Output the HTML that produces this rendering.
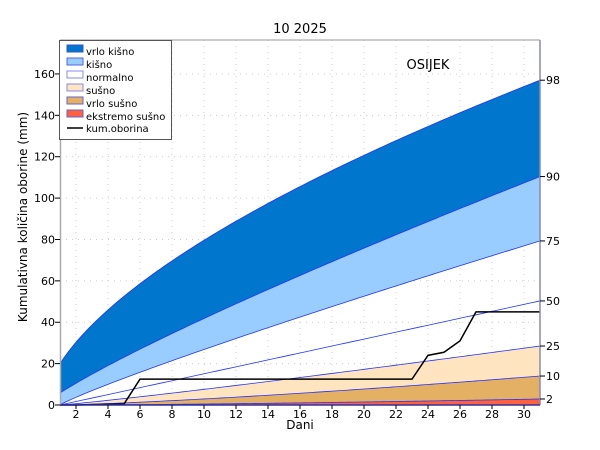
<!DOCTYPE html>
<html><head><meta charset="utf-8"><style>
body{margin:0;background:#fff;}
svg{display:block;font-family:"DejaVu Sans","Liberation Sans",sans-serif;}
</style></head><body>
<svg id="s" width="600" height="450" xmlns="http://www.w3.org/2000/svg">
<rect width="600" height="450" fill="#fff"/>
<g id="grid"></g>
<g id="fills"></g>
<g id="lines"></g>
<line x1="60" y1="40" x2="540" y2="40" stroke="#999" stroke-width="1"/>
<line x1="60.5" y1="40" x2="60.5" y2="405" stroke="#aaa" stroke-width="1.5"/>
<line x1="540" y1="40" x2="540" y2="405" stroke="#8888bb" stroke-width="1.5"/>
<line x1="60" y1="405" x2="540" y2="405" stroke="#333399" stroke-width="1.5"/>
<g id="ticks" font-size="11" fill="#000"></g>
<text x="300" y="33" font-size="13" text-anchor="middle">10 2025</text>
<text x="428" y="69" font-size="13" text-anchor="middle">OSIJEK</text>
<text x="300" y="429" font-size="12" text-anchor="middle">Dani</text>
<text transform="translate(27,217) rotate(-90)" font-size="12" text-anchor="middle">Kumulativna količina oborine (mm)</text>
<g font-size="10">
<rect x="59.5" y="40.5" width="112" height="99" fill="#fff" stroke="#555"/>
<rect x="67" y="45" width="16" height="7" fill="#0077cc" stroke="#3355cc"/><text x="86" y="55">vrlo kišno</text>
<rect x="67" y="58" width="16" height="7" fill="#99ccff" stroke="#5566dd"/><text x="86" y="68">kišno</text>
<rect x="67" y="71" width="16" height="7" fill="#fff" stroke="#8888ee"/><text x="86" y="81">normalno</text>
<rect x="67" y="84" width="16" height="7" fill="#ffe4c0" stroke="#8888ee"/><text x="86" y="94">sušno</text>
<rect x="67" y="97" width="16" height="7" fill="#e3b064" stroke="#6666cc"/><text x="86" y="107">vrlo sušno</text>
<rect x="67" y="110" width="16" height="7" fill="#ff6040" stroke="#6666cc"/><text x="86" y="120">ekstremo sušno</text>
<line x1="67" y1="128" x2="83" y2="128" stroke="#000" stroke-width="1.5"/><text x="86" y="132">kum.oborina</text>
</g>
</svg>
<script>
const NS="http://www.w3.org/2000/svg";
const X=d=>60+(d-1)*16, Y=v=>405-v*2.069;
function el(p,t,a){const e=document.createElementNS(NS,t);for(const k in a)e.setAttribute(k,a[k]);document.getElementById(p).appendChild(e);return e;}
const fns=[
 d=>20*Math.pow(d,0.6),
 d=>5.8*Math.pow(d,0.858),
 d=>79.3*Math.pow((d-1)/30,0.9),
 d=>50.3*((d-1)/30),
 d=>28.5*Math.pow((d-1)/30,1.1),
 d=>14*Math.pow((d-1)/30,1.3),
 d=>2.9*Math.pow((d-1)/30,1.5),
 d=>0];
const cols=["#0077cc","#99ccff","#ffffff","#ffffff","#ffe4c0","#e3b064","#ff6040"];
const pts=f=>{let a=[];for(let d=1;d<=31.001;d+=0.25)a.push([X(d),Y(f(d))]);return a;};
for(let i=0;i<7;i++){
 if(cols[i]=="#ffffff")continue;
 const top=pts(fns[i]),bot=pts(fns[i+1]).reverse();
 el("fills","path",{d:"M"+top.concat(bot).map(p=>p.join(",")).join("L")+"Z",fill:cols[i]});
}
for(let d=2;d<=30;d+=2)el("grid","line",{x1:X(d),y1:40,x2:X(d),y2:405,stroke:"#ccc","stroke-dasharray":"1,5"});
for(let v=20;v<=160;v+=20)el("grid","line",{x1:60,y1:Y(v),x2:540,y2:Y(v),stroke:"#ccc","stroke-dasharray":"1,5"});
for(let i=0;i<7;i++)el("lines","polyline",{points:pts(fns[i]).map(p=>p.join(",")).join(" "),fill:"none",stroke:"#2233ff","stroke-width":0.8});
const cum=[0,0,0.2,0.3,0.5,12.5,12.5,12.5,12.5,12.5,12.5,12.5,12.5,12.5,12.5,12.5,12.5,12.5,12.5,12.5,12.5,12.5,12.5,24,25.5,31,45,45,45,45,45];
el("lines","polyline",{points:cum.map((v,i)=>X(i+1)+","+Y(v)).join(" "),fill:"none",stroke:"#000","stroke-width":1.5});
for(let d=2;d<=30;d+=2){el("ticks","line",{x1:X(d),y1:405,x2:X(d),y2:409,stroke:"#000"});const t=el("ticks","text",{x:X(d),y:418,"text-anchor":"middle"});t.textContent=d;}
for(let v=0;v<=160;v+=20){el("ticks","line",{x1:55,y1:Y(v),x2:60,y2:Y(v),stroke:"#000"});const t=el("ticks","text",{x:55,y:Y(v)+4,"text-anchor":"end"});t.textContent=v;}
const rl=[[98,fns[0](31)],[90,fns[1](31)],[75,fns[2](31)],[50,fns[3](31)],[25,fns[4](31)],[10,fns[5](31)],[2,fns[6](31)]];
for(const [l,v] of rl){el("ticks","line",{x1:540,y1:Y(v),x2:545,y2:Y(v),stroke:"#000"});const t=el("ticks","text",{x:546,y:Y(v)+4});t.textContent=l;}
</script>
</body></html>
